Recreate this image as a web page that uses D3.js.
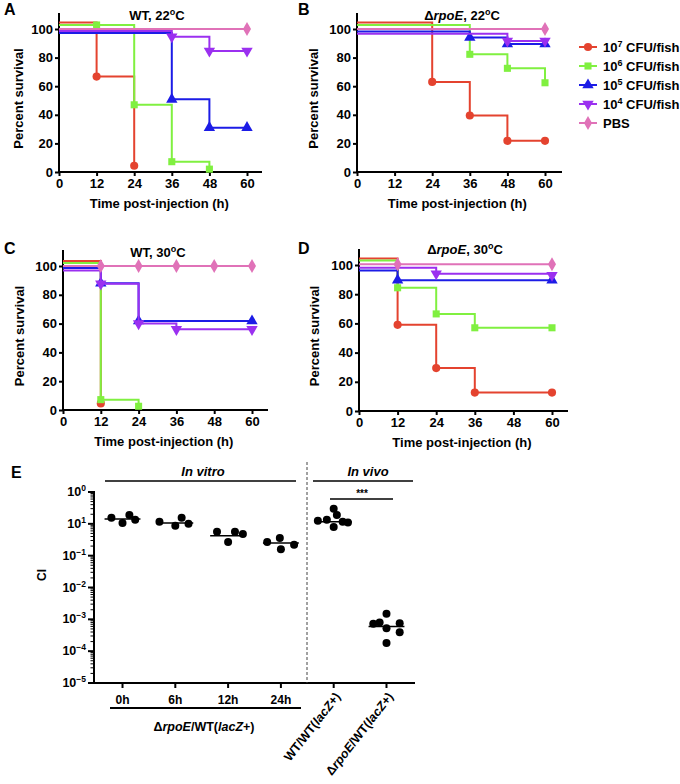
<!DOCTYPE html>
<html><head><meta charset="utf-8">
<script src="https://cdn.jsdelivr.net/npm/d3@7"></script>
<style>
body{margin:0;background:#fff}
svg{display:block}
text{font-family:"Liberation Sans",Arial,Helvetica,sans-serif;font-weight:bold;fill:#000}
</style>
</head><body>
<svg id="chart" width="680" height="784"></svg>
<script>
// ---------------- DATA ----------------
const timeTicks = [0, 12, 24, 36, 48, 60];
const survivalTicks = [0, 20, 40, 60, 80, 100];
const doseExponents = ["7", "6", "5", "4", null];
const legendLabels = ["CFU/fish", "CFU/fish", "CFU/fish", "CFU/fish", "PBS"];

// series order: 10^7, 10^6, 10^5, 10^4, PBS  -> [time (h), percent survival]
const survWT22 = [
  [[0, 104.5], [12, 66.7], [24, 4.4]],
  [[0, 102.8], [12, 102.8], [24, 47], [36, 7.2], [48, 2]],
  [[0, 97.2], [36, 50.8], [48, 31], [60, 31]],
  [[0, 98.6], [36, 94.6], [48, 84.6], [60, 84.6]],
  [[0, 100], [60, 100]]
];
const survDrpoE22 = [
  [[0, 104.5], [24, 63], [36, 39.5], [48, 21.8], [60, 21.8]],
  [[0, 102.8], [36, 82.3], [48, 72.5], [60, 62.4]],
  [[0, 98.3], [36, 94], [48, 89.5], [60, 89.5]],
  [[0, 96.6], [48, 91.6], [60, 91.6]],
  [[0, 100], [60, 100]]
];
const survWT30 = [
  [[0, 103.5], [12, 4.6]],
  [[0, 102], [12, 7.2], [24, 2.6]],
  [[0, 98.6], [12, 88], [24, 61.8], [60, 61.8]],
  [[0, 96.8], [12, 87.6], [24, 60], [36, 56], [60, 56]],
  [[0, 100], [12, 100], [24, 100], [36, 100], [48, 100], [60, 100]]
];
const survDrpoE30 = [
  [[0, 104.5], [12, 59], [24, 29.4], [36, 12.6], [60, 12.6]],
  [[0, 103], [12, 84.4], [24, 66.5], [36, 57], [60, 57]],
  [[0, 96.2], [12, 89.6], [60, 89.6]],
  [[0, 98.2], [24, 94], [60, 93]],
  [[0, 100.5], [12, 100.5], [60, 100.5]]
];

// Panel E
const ciCategories = ["0h", "6h", "12h", "24h", "WT/WT(lacZ+)", "ΔrpoE/WT(lacZ+)"];
const ciTickValues = [1e-5, 1e-4, 1e-3, 1e-2, 1e-1, 1e0, 1e1];
const ciTickExponents = ["-5", "-4", "-3", "-2", "-1", "1", "0"];
const ciValues = [
  [1.55, 1.07, 1.9, 1.34],
  [1.16, 0.87, 1.55, 1.0],
  [0.56, 0.27, 0.56, 0.48],
  [0.27, 0.36, 0.16, 0.22],
  [1.24, 1.34, 2.96, 0.8, 1.9, 1.16, 1.1],
  [7.3e-4, 8e-4, 1.5e-3, 5.2e-4, 7.5e-4, 3.9e-4, 1.8e-4]
];
// horizontal spread of the dots, as a fraction of the category spacing
const ciSpread = [
  [-0.21, 0, 0.13, 0.24],
  [-0.3, 0, 0.12, 0.25],
  [-0.21, 0, 0.13, 0.28],
  [-0.26, -0.02, 0, 0.25],
  [-0.3, -0.13, 0, 0, 0.06, 0.17, 0.27],
  [-0.25, -0.13, 0, 0, 0.25, 0.25, 0]
];
const ciMedians = [1.43, 1.07, 0.42, 0.25, 1.16, 6e-4];

// ---------------- STYLE / LAYOUT ----------------
const colors = ["#e4432f", "#80f040", "#1c1ce6", "#9b30f0", "#e072b8"];
const shapes = [d3.symbolCircle, d3.symbolSquare, d3.symbolTriangle, d3.symbolTriangle, d3.symbolDiamond];
const shapeRot = [0, 0, 0, 180, 0];
const shapeSize = [52, 50, 56, 56, 56];

const svg = d3.select("#chart");

const panels = [
  {letter: "A", lx: 4, ly: 15, title: "WT, 22", italic: false, data: survWT22,
   x0: 59, x1: 247, xEnd: 262, y0: 172, y1: 29, yTop: 13, ylabX: 23, titleX: 157, titleY: 20},
  {letter: "B", lx: 298, ly: 15, title: "rpoE, 22", italic: true, data: survDrpoE22,
   x0: 357, x1: 545, xEnd: 562, y0: 172, y1: 29, yTop: 13, ylabX: 318, titleX: 462, titleY: 20},
  {letter: "C", lx: 4, ly: 254, title: "WT, 30", italic: false, data: survWT30,
   x0: 63, x1: 252, xEnd: 268, y0: 410, y1: 266, yTop: 250, ylabX: 24, titleX: 158, titleY: 257},
  {letter: "D", lx: 298, ly: 254, title: "rpoE, 30", italic: true, data: survDrpoE30,
   x0: 359, x1: 552, xEnd: 568, y0: 411, y1: 265, yTop: 249, ylabX: 319, titleX: 465, titleY: 254}
];

function addTitle(g, p) {
  const t = g.append("text").attr("x", p.titleX).attr("y", p.titleY)
    .attr("text-anchor", "middle").attr("font-size", 13);
  const parts = p.title.split(", ");
  if (p.italic) {
    t.append("tspan").text("Δ");
    t.append("tspan").attr("font-style", "italic").text(parts[0]);
  } else {
    t.append("tspan").text(parts[0]);
  }
  t.append("tspan").text(", " + parts[1]);
  t.append("tspan").attr("font-size", 9).attr("dy", -5).text("o");
  t.append("tspan").attr("dy", 5).text("C");
}

panels.forEach(p => {
  const g = svg.append("g");
  const x = d3.scaleLinear().domain([0, 60]).range([p.x0, p.x1]);
  const y = d3.scaleLinear().domain([0, 100]).range([p.y0, p.y1]);

  g.append("text").attr("x", p.lx).attr("y", p.ly).attr("font-size", 16).text(p.letter);
  addTitle(g, p);

  // axes
  const ya = g.append("g").attr("transform", `translate(${p.x0},0)`)
    .call(d3.axisLeft(y).tickValues(survivalTicks).tickSize(4).tickPadding(2));
  ya.select(".domain").remove();
  ya.selectAll("line").attr("stroke", "#000").attr("stroke-width", 2);
  ya.selectAll("text").attr("font-size", 13).attr("font-family", "Liberation Sans, Arial, sans-serif").attr("font-weight", "bold");
  g.append("line").attr("x1", p.x0).attr("x2", p.x0).attr("y1", p.y0 + 1).attr("y2", p.yTop)
    .attr("stroke", "#000").attr("stroke-width", 2);

  const xa = g.append("g").attr("transform", `translate(0,${p.y0})`)
    .call(d3.axisBottom(x).tickValues(timeTicks).tickSize(4).tickPadding(3));
  xa.select(".domain").remove();
  xa.selectAll("line").attr("stroke", "#000").attr("stroke-width", 2);
  xa.selectAll("text").attr("font-size", 13).attr("font-family", "Liberation Sans, Arial, sans-serif").attr("font-weight", "bold");
  g.append("line").attr("x1", p.x0 - 1).attr("x2", p.xEnd).attr("y1", p.y0).attr("y2", p.y0)
    .attr("stroke", "#000").attr("stroke-width", 2);

  g.append("text").attr("transform", `translate(${p.ylabX},${(p.y0 + p.yTop) / 2 + 6}) rotate(-90)`)
    .attr("text-anchor", "middle").attr("font-size", 13).text("Percent survival");
  g.append("text").attr("x", x(32)).attr("y", p.y0 + 36)
    .attr("text-anchor", "middle").attr("font-size", 13).text("Time post-injection (h)");

  // series
  p.data.forEach((pts, i) => {
    let d = `M${x(pts[0][0])},${y(pts[0][1])}`;
    for (let k = 1; k < pts.length; k++) d += `H${x(pts[k][0])}V${y(pts[k][1])}`;
    g.append("path").attr("d", d).attr("fill", "none").attr("stroke", colors[i]).attr("stroke-width", 2);
    g.selectAll(null).data(pts.slice(1)).enter().append("path")
      .attr("d", d3.symbol().type(shapes[i]).size(shapeSize[i]))
      .attr("transform", q => `translate(${x(q[0])},${y(q[1])}) rotate(${shapeRot[i]})`)
      .attr("fill", colors[i]);
  });
});

// legend
const leg = svg.append("g");
colors.forEach((c, i) => {
  const yy = 47 + i * 19;
  leg.append("line").attr("x1", 579).attr("x2", 597).attr("y1", yy).attr("y2", yy)
    .attr("stroke", c).attr("stroke-width", 2);
  leg.append("path").attr("d", d3.symbol().type(shapes[i]).size(shapeSize[i]))
    .attr("transform", `translate(588,${yy}) rotate(${shapeRot[i]})`).attr("fill", c);
  const t = leg.append("text").attr("x", 603).attr("y", yy + 5).attr("font-size", 13);
  if (doseExponents[i]) {
    t.append("tspan").text("10");
    t.append("tspan").attr("font-size", 9).attr("dy", -5).text(doseExponents[i]);
    t.append("tspan").attr("dy", 5).text(" " + legendLabels[i]);
  } else {
    t.append("tspan").text(legendLabels[i]);
  }
});

// ---------------- PANEL E ----------------
const gE = svg.append("g");
const ex = d3.scalePoint().domain(d3.range(ciCategories.length)).range([94, 415]).padding(0.54);
const ey = d3.scaleLog().domain([1e-5, 1e1]).range([683, 492]);
const step = ex.step();

gE.append("text").attr("x", 11).attr("y", 478).attr("font-size", 16).text("E");

// y axis
gE.append("line").attr("x1", 94).attr("x2", 94).attr("y1", 684).attr("y2", 491)
  .attr("stroke", "#000").attr("stroke-width", 2);
const minor = [];
for (let e = -5; e < 1; e++) for (let m = 2; m <= 9; m++) minor.push(m * Math.pow(10, e));
gE.selectAll(null).data(minor).enter().append("line")
  .attr("x1", 94).attr("x2", 90.5).attr("y1", d => ey(d)).attr("y2", d => ey(d))
  .attr("stroke", "#000").attr("stroke-width", 1);
gE.selectAll(null).data(ciTickValues).enter().append("line")
  .attr("x1", 94).attr("x2", 88).attr("y1", d => ey(d)).attr("y2", d => ey(d))
  .attr("stroke", "#000").attr("stroke-width", 2);
ciTickValues.forEach((v, i) => {
  const t = gE.append("text").attr("x", 86).attr("y", ey(v) + 4).attr("text-anchor", "end").attr("font-size", 12.5);
  t.append("tspan").text("10");
  t.append("tspan").attr("font-size", 8.5).attr("dy", -5).text(ciTickExponents[i].replace("-", "\u2212"));
});
gE.append("text").attr("transform", "translate(46,575) rotate(-90)").attr("text-anchor", "middle")
  .attr("font-size", 12).text("CI");

// x axis
gE.append("line").attr("x1", 93).attr("x2", 415).attr("y1", 683).attr("y2", 683)
  .attr("stroke", "#000").attr("stroke-width", 2);
gE.selectAll(null).data(d3.range(ciCategories.length)).enter().append("line")
  .attr("x1", d => ex(d)).attr("x2", d => ex(d)).attr("y1", 683).attr("y2", 688)
  .attr("stroke", "#000").attr("stroke-width", 2);
ciCategories.slice(0, 4).forEach((c, i) => {
  gE.append("text").attr("x", ex(i)).attr("y", 704).attr("text-anchor", "middle").attr("font-size", 12).text(c);
});
function richLabel(t, s) {
  // italicise gene names
  const re = /(rpoE|lacZ)/g;
  let last = 0, m;
  while ((m = re.exec(s)) !== null) {
    if (m.index > last) t.append("tspan").text(s.slice(last, m.index));
    t.append("tspan").attr("font-style", "italic").text(m[0]);
    last = m.index + m[0].length;
  }
  if (last < s.length) t.append("tspan").text(s.slice(last));
}
gE.append("line").attr("x1", 110).attr("x2", 301).attr("y1", 708).attr("y2", 708)
  .attr("stroke", "#000").attr("stroke-width", 2);
richLabel(gE.append("text").attr("x", 204).attr("y", 731).attr("text-anchor", "middle").attr("font-size", 12.5),
  "ΔrpoE/WT(lacZ+)");
[4, 5].forEach(i => {
  const t = gE.append("text").attr("transform", `translate(${ex(i) + 4},694) rotate(-52)`)
    .attr("text-anchor", "end").attr("dy", "0.35em").attr("font-size", 12.5);
  richLabel(t, ciCategories[i]);
});

// group headers
gE.append("text").attr("x", 203).attr("y", 476).attr("text-anchor", "middle").attr("font-size", 13)
  .attr("font-style", "italic").text("In vitro");
gE.append("line").attr("x1", 105).attr("x2", 296).attr("y1", 481).attr("y2", 481).attr("stroke", "#000").attr("stroke-width", 1.5);
gE.append("text").attr("x", 368).attr("y", 476).attr("text-anchor", "middle").attr("font-size", 13)
  .attr("font-style", "italic").text("In vivo");
gE.append("line").attr("x1", 313).attr("x2", 413).attr("y1", 481).attr("y2", 481).attr("stroke", "#000").attr("stroke-width", 1.5);
gE.append("text").attr("x", 362).attr("y", 497).attr("text-anchor", "middle").attr("font-size", 10)
  .attr("font-weight", "normal").attr("fill", "#333").text("***");
gE.append("line").attr("x1", 330).attr("x2", 393).attr("y1", 499).attr("y2", 499).attr("stroke", "#000").attr("stroke-width", 1.5);
gE.append("line").attr("x1", 307).attr("x2", 307).attr("y1", 462).attr("y2", 683)
  .attr("stroke", "#444").attr("stroke-width", 1).attr("stroke-dasharray", "3,2");

// medians and dots
ciMedians.forEach((m, i) => {
  gE.append("line").attr("x1", ex(i) - step * 0.34).attr("x2", ex(i) + step * 0.34)
    .attr("y1", ey(m)).attr("y2", ey(m)).attr("stroke", "#000").attr("stroke-width", 1.5);
});
ciValues.forEach((vals, i) => {
  gE.selectAll(null).data(vals).enter().append("circle")
    .attr("cx", (v, k) => ex(i) + ciSpread[i][k] * step)
    .attr("cy", v => ey(v)).attr("r", 4).attr("fill", "#000");
});
</script>
</body></html>
